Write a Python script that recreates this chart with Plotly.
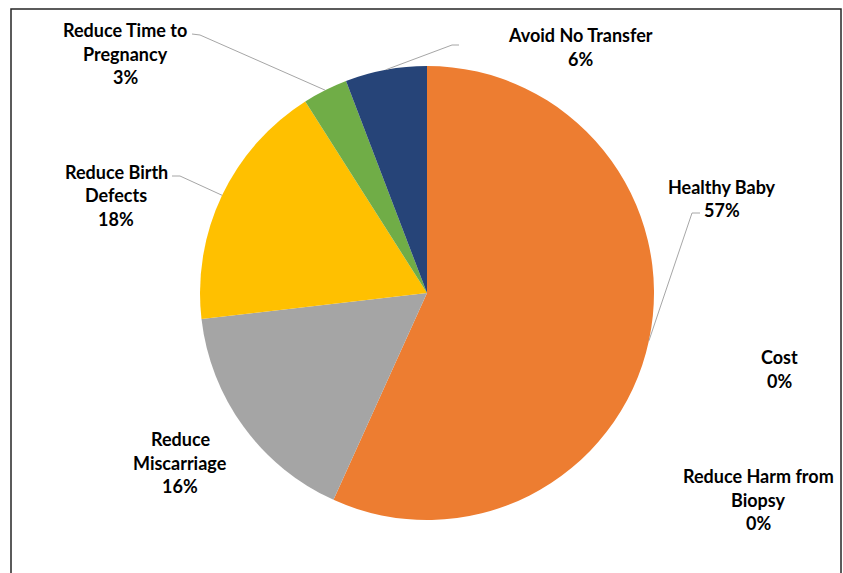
import math
import plotly.graph_objects as go

W, H = 843, 573

labels = ["Healthy Baby", "Cost", "Reduce Harm from Biopsy", "Reduce Miscarriage",
          "Reduce Birth Defects", "Reduce Time to Pregnancy", "Avoid No Transfer"]
values = [56.7, 0, 0, 16.4, 17.8, 3.2, 5.8]
pct_labels = ["57%", "0%", "0%", "16%", "18%", "3%", "6%"]
label_lines = [["Healthy Baby"], ["Cost"], ["Reduce Harm from", "Biopsy"],
               ["Reduce", "Miscarriage"], ["Reduce Birth", "Defects"],
               ["Reduce Time to", "Pregnancy"], ["Avoid No Transfer"]]
colors = ["#ED7D31", "#5B9BD5", "#4472C4", "#A5A5A5", "#FFC000", "#70AD47", "#264478"]

# pie geometry (pixels)
cx, cy, R = 427, 293, 227
dom_x = [(cx - R) / W, (cx + R) / W]
dom_y = [1 - (cy + R) / H, 1 - (cy - R) / H]

fig = go.Figure(go.Pie(
    labels=labels, values=values, sort=False, direction="clockwise", rotation=0,
    marker=dict(colors=colors, line=dict(color="white", width=0)),
    textinfo="none", hoverinfo="label+percent", showlegend=False,
    domain=dict(x=dom_x, y=dom_y),
))

# label block: center x, y of first line (pixels)
label_pos = {
    "Healthy Baby": (722, 186),
    "Cost": (779, 356),
    "Reduce Harm from Biopsy": (758, 475),
    "Reduce Miscarriage": (180, 438),
    "Reduce Birth Defects": (116, 171),
    "Reduce Time to Pregnancy": (125, 29),
    "Avoid No Transfer": (580, 34),
}
LINE_GAP = 23.5
# leader line elbow points (pixels): (start, elbow)
leaders = {
    "Healthy Baby": ((700, 213), (692, 213)),
    "Reduce Birth Defects": ((172, 176), (180, 176)),
    "Reduce Time to Pregnancy": ((192, 34), (200, 35)),
    "Avoid No Transfer": ((459, 45), (452, 45)),
}

annotations = []
for name, lines, pct in zip(labels, label_lines, pct_labels):
    x, y = label_pos[name]
    for i, t in enumerate(lines + [pct]):
        annotations.append(dict(
            x=x / W, y=1 - (y + 1 + i * LINE_GAP) / H, xref="paper", yref="paper",
            text=f"<b>{t}</b>", showarrow=False,
            font=dict(family="Lato, Open Sans, sans-serif", size=18, color="#000000"),
            align="center", xanchor="center", yanchor="middle",
        ))

shapes = []
total = sum(values)
cum = 0
for name, v in zip(labels, values):
    mid = (cum + v / 2) / total * 2 * math.pi
    cum += v
    if name in leaders:
        px = cx + R * math.sin(mid)
        py = cy - R * math.cos(mid)
        (sx, sy), (ex, ey) = leaders[name]
        path = f"M {sx/W},{1-sy/H} L {ex/W},{1-ey/H} L {px/W},{1-py/H}"
        shapes.append(dict(type="path", xref="paper", yref="paper", path=path,
                           line=dict(color="#A6A6A6", width=1)))

# chart frame
shapes.append(dict(type="rect", xref="paper", yref="paper",
                   x0=11 / W, x1=841 / W, y0=-0.02, y1=1 - 9 / H,
                   line=dict(color="#262626", width=1.5)))

fig.update_layout(
    width=W, height=H, margin=dict(l=0, r=0, t=0, b=0),
    paper_bgcolor="white", plot_bgcolor="white",
    annotations=annotations, shapes=shapes,
)

fig.write_html("out.html", config={"displayModeBar": False},
               post_script="document.body.style.margin='0';")
